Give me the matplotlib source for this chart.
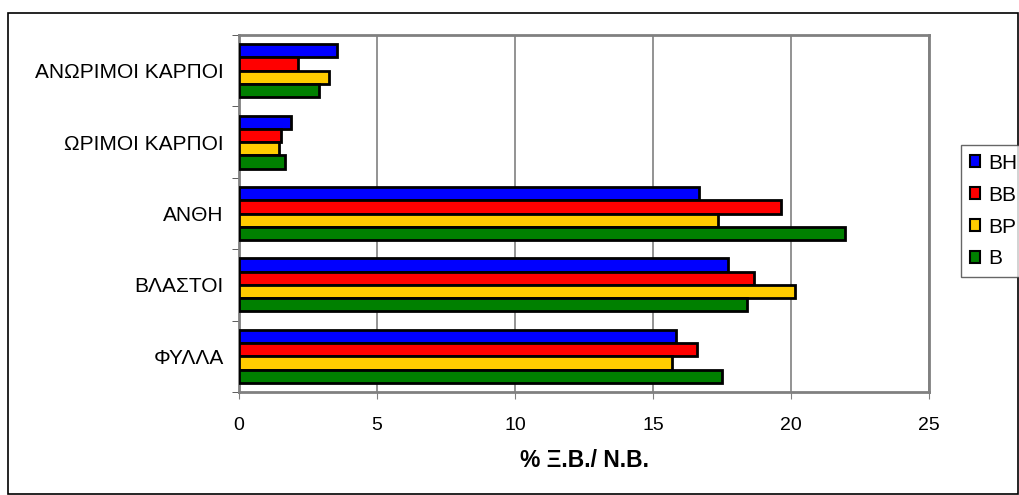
import numpy as np
import matplotlib.pyplot as plt
from matplotlib.patches import Rectangle, Patch

plt.rcParams['font.family'] = ['Liberation Sans', 'DejaVu Sans']

# categories, bottom to top
categories = ['ΦΥΛΛΑ', 'ΒΛΑΣΤΟΙ', 'ΑΝΘΗ', 'ΩΡΙΜΟΙ ΚΑΡΠΟΙ', 'ΑΝΩΡΙΜΟΙ ΚΑΡΠΟΙ']
series_names = ['BH', 'BB', 'BP', 'B']
colors = ['#0000ff', '#ff0000', '#ffcc00', '#008000']

BH = [15.84, 17.73, 16.68, 1.88, 3.56]
BB = [16.60, 18.67, 19.62, 1.52, 2.12]
BP = [15.69, 20.15, 17.36, 1.46, 3.25]
B = [17.49, 18.39, 21.97, 1.67, 2.91]
values = [BH, BB, BP, B]

fig = plt.figure(figsize=(10.19, 4.95), dpi=100)
fig.patches.append(Rectangle((8/1019, 1/495), 1010/1019, 481/495, transform=fig.transFigure,
                             fill=False, edgecolor='black', linewidth=1.2))

ax = fig.add_axes([239/1019, 1 - 392/495, (929 - 239)/1019, (392 - 35)/495])

y = np.arange(len(categories))
bh = 0.186
# BH on top of each group, B at the bottom
for k, (vals, c) in enumerate(zip(values, colors)):
    off = (1.5 - k) * bh
    ax.barh(y + off, vals, height=bh, color=c, edgecolor='black', linewidth=2, zorder=3)

ax.set_xlim(0, 25)
ax.set_ylim(-0.5, len(categories) - 0.5)
ax.set_xticks([0, 5, 10, 15, 20, 25])
ax.tick_params(axis='x', labelsize=14, length=5, color='#808080', pad=13, direction='out')
ax.grid(axis='x', color='#808080', linewidth=1.2, zorder=0)

ax.set_yticks(y)
ax.set_yticklabels(categories, fontsize=15)
ax.tick_params(axis='y', length=0, pad=11)
ax.set_yticks(np.arange(-0.5, len(categories)), minor=True)
ax.tick_params(axis='y', which='minor', length=5, color='#404040')

for s in ax.spines.values():
    s.set_color('#808080')
    s.set_linewidth(2)

ax.set_xlabel('% Ξ.Β./ Ν.Β.', fontsize=16.5, fontweight='bold', labelpad=11)

handles = [Patch(facecolor=c, edgecolor='black', linewidth=1.5, label=n)
           for n, c in zip(series_names, colors)]
leg = fig.legend(handles=handles, loc='upper left', bbox_to_anchor=(961/1019, 1 - 145/495),
                 fontsize=15, frameon=True, fancybox=False, handlelength=0.5, handleheight=0.5,
                 handletextpad=0.4, labelspacing=0.62, borderpad=0.42, borderaxespad=0)
leg.get_frame().set_edgecolor('#404040')
leg.get_frame().set_linewidth(1)

fig.savefig('out.png', dpi=100)
